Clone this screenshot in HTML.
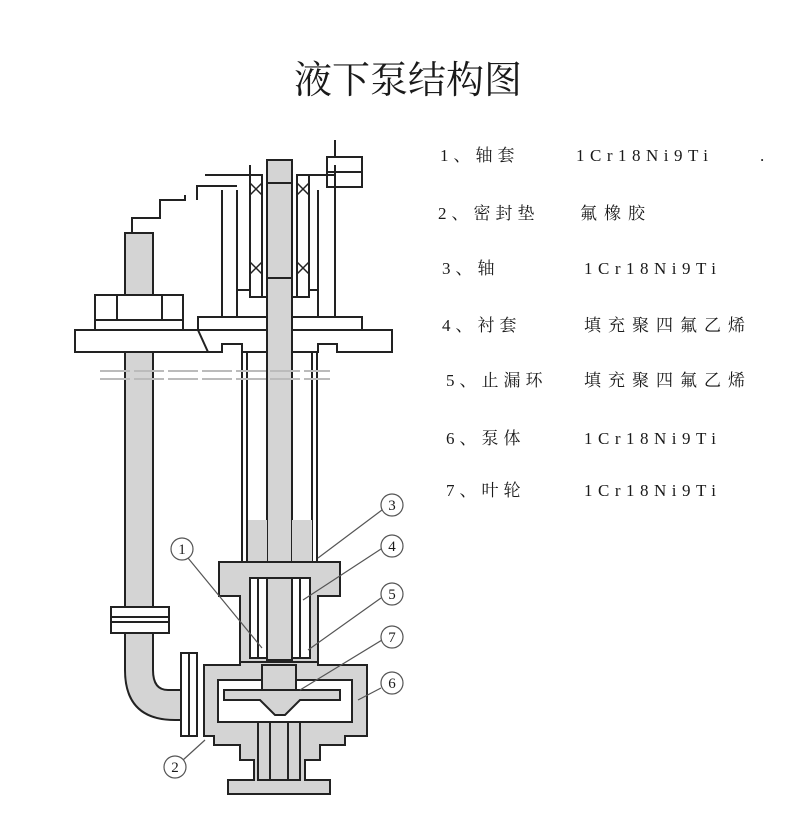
<!DOCTYPE html>
<html><head><meta charset="utf-8"><style>
html,body{margin:0;padding:0;background:#fff;}
svg{display:block}
text{font-family:"Liberation Serif","Noto Serif CJK SC",serif;fill:#1a1a1a}
.t{font-size:17px;letter-spacing:5px}
.m{letter-spacing:5.5px}
.z{letter-spacing:7px}
.c{font-family:"Liberation Sans",sans-serif;font-size:15px;fill:#333}
</style></head><body>
<svg width="811" height="837" viewBox="0 0 811 837" xmlns="http://www.w3.org/2000/svg">
<text x="408" y="93" text-anchor="middle" style="font-size:38px;font-family:'Liberation Serif','Noto Serif CJK SC',serif">液下泵结构图</text>

<g class="t">
<text x="440" y="161">1、轴套</text><text class="m" x="576" y="161">1Cr18Ni9Ti</text><text x="760" y="161">.</text>
<text x="438" y="219">2、密封垫</text><text class="z" x="580" y="219">氟橡胶</text>
<text x="442" y="274">3、轴</text><text class="m" x="584" y="274">1Cr18Ni9Ti</text>
<text x="442" y="331">4、衬套</text><text class="z" x="584" y="331">填充聚四氟乙烯</text>
<text x="446" y="386">5、止漏环</text><text class="z" x="584" y="386">填充聚四氟乙烯</text>
<text x="446" y="444">6、泵体</text><text class="m" x="584" y="444">1Cr18Ni9Ti</text>
<text x="446" y="496">7、叶轮</text><text class="m" x="584" y="496">1Cr18Ni9Ti</text>
</g>

<g stroke="#222" stroke-width="2" fill="none">
<rect x="125" y="233" width="28" height="62" fill="#d4d4d4"/>
<polyline points="132,233 132,218 160,218 160,200 185,200 185,195"/>
<rect x="125" y="352" width="28" height="256" fill="#d4d4d4"/>
<path d="M125,633 L125,670 Q125,720 175,720 L182,720 L182,690 L168,690 Q153,690 153,670 L153,633 Z" fill="#d4d4d4"/>
<rect x="111" y="607" width="58" height="26" fill="#fff"/>
<line x1="111" y1="617" x2="169" y2="617"/><line x1="111" y1="622" x2="169" y2="622"/>
<rect x="181" y="653" width="16" height="83" fill="#fff"/>
<line x1="189" y1="653" x2="189" y2="736"/>
<rect x="95" y="295" width="88" height="35" fill="#fff"/>
<line x1="95" y1="320" x2="183" y2="320"/>
<line x1="117" y1="295" x2="117" y2="320"/><line x1="162" y1="295" x2="162" y2="320"/>
<rect x="75" y="330" width="133" height="22" fill="#fff"/>
<path d="M198,330 L198,317 L362,317 L362,330 L392,330 L392,352 L337,352 L337,344 L318,344 L318,352 L242,352 L242,344 L222,344 L222,352 L208,352 Z" fill="#fff"/>
<line x1="198" y1="330" x2="362" y2="330"/>
<line x1="222" y1="190" x2="222" y2="317"/><line x1="237" y1="190" x2="237" y2="317"/>
<line x1="318" y1="190" x2="318" y2="317"/><line x1="335" y1="165" x2="335" y2="317"/>
<polyline points="197,200 197,186 237,186"/>
<polyline points="205,175 250,175 250,165"/>
<polyline points="310,175 335,175"/>
<rect x="327" y="157" width="35" height="30"/>
<line x1="327" y1="172" x2="362" y2="172"/>
<line x1="335" y1="140" x2="335" y2="157"/>
<rect x="250" y="175" width="12" height="122"/>
<rect x="297" y="175" width="12" height="122"/>
<path d="M250,183 l12,12 M262,183 l-12,12 M297,183 l12,12 M309,183 l-12,12 M250,262 l12,12 M262,262 l-12,12 M297,262 l12,12 M309,262 l-12,12" stroke-width="1.5"/>
<polyline points="237,290 250,290 250,297 309,297 309,290 318,290"/>
<rect x="267" y="160" width="25" height="500" fill="#d4d4d4"/>
<line x1="267" y1="183" x2="292" y2="183"/><line x1="267" y1="278" x2="292" y2="278"/>
<rect x="242" y="352" width="5" height="210" fill="#fff"/>
<rect x="312" y="352" width="5" height="210" fill="#fff"/>
<rect x="248" y="520" width="19" height="45" fill="#d4d4d4" stroke="none"/>
<rect x="292" y="520" width="20" height="45" fill="#d4d4d4" stroke="none"/>
<path d="M219,562 L340,562 L340,596 L318,596 L318,662 L240,662 L240,596 L219,596 Z" fill="#d4d4d4"/>
<rect x="250" y="578" width="60" height="80" fill="#fff"/>
<line x1="258" y1="578" x2="258" y2="658"/><line x1="300" y1="578" x2="300" y2="658"/>
<rect x="267" y="578" width="25" height="82" fill="#d4d4d4"/>
<path d="M204,665 L240,665 L240,662 L318,662 L318,665 L367,665 L367,736 L345,736 L345,745 L320,745 L320,760 L305,760 L305,780 L330,780 L330,794 L228,794 L228,780 L254,780 L254,760 L240,760 L240,745 L214,745 L214,736 L204,736 Z" fill="#d4d4d4"/>
<path d="M218,680 L352,680 L352,722 L218,722 Z" fill="#fff"/>
<path d="M224,690 L340,690 L340,700 L300,700 L285,715 L275,715 L260,700 L224,700 Z" fill="#d4d4d4"/>
<rect x="262" y="665" width="34" height="25" fill="#d4d4d4"/>
<rect x="258" y="722" width="42" height="58" fill="#d4d4d4"/>
<line x1="270" y1="722" x2="270" y2="780"/><line x1="288" y1="722" x2="288" y2="780"/>
</g>
<g stroke="#bbb" stroke-width="2" stroke-dasharray="30,4">
<line x1="100" y1="371" x2="330" y2="371"/><line x1="100" y1="379" x2="330" y2="379"/>
</g>
<g stroke="#555" stroke-width="1.2" fill="#fff">
<line x1="318" y1="558" x2="382" y2="510"/>
<line x1="303" y1="600" x2="381" y2="549"/>
<line x1="308" y1="650" x2="381" y2="598"/>
<line x1="300" y1="690" x2="382" y2="640"/>
<line x1="358" y1="700" x2="381" y2="688"/>
<line x1="188" y1="558" x2="262" y2="648"/>
<line x1="183" y1="760" x2="205" y2="740"/>
<circle cx="392" cy="505" r="11"/><circle cx="392" cy="546" r="11"/>
<circle cx="392" cy="594" r="11"/><circle cx="392" cy="637" r="11"/>
<circle cx="392" cy="683" r="11"/><circle cx="182" cy="549" r="11"/>
<circle cx="175" cy="767" r="11"/>
</g>
<g class="c" text-anchor="middle">
<text x="392" y="510">3</text><text x="392" y="551">4</text><text x="392" y="599">5</text>
<text x="392" y="642">7</text><text x="392" y="688">6</text><text x="182" y="554">1</text><text x="175" y="772">2</text>
</g>
</svg>
</body></html>
